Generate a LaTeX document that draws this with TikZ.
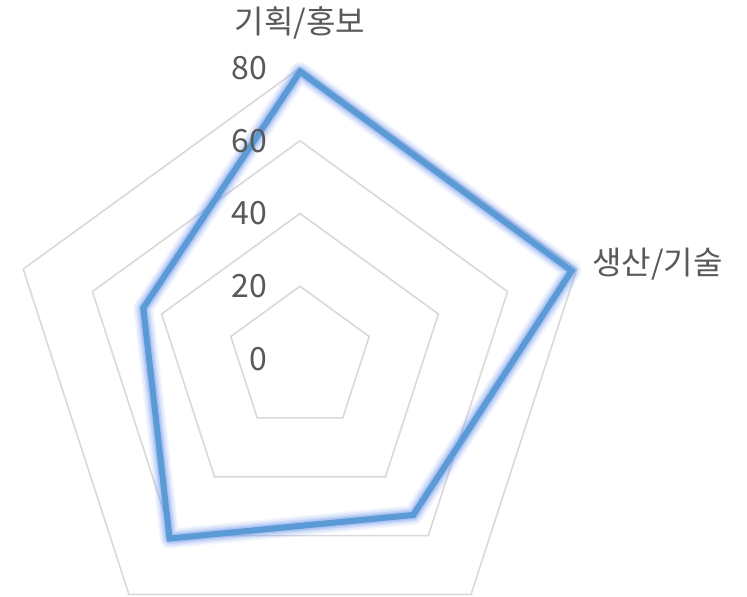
\documentclass[tikz,border=0pt]{standalone}
\usepackage{fontspec}
\setmainfont{Noto Sans CJK KR}
\begin{document}
\begin{tikzpicture}[x=1pt,y=1pt,
  ring/.style={draw={rgb,255:red,217;green,217;blue,217},line width=1.6pt,line join=miter},
  lbl/.style={text={rgb,255:red,89;green,89;blue,89},font=\fontsize{32}{38}\selectfont,inner sep=0pt},
  glow/.style={draw={rgb,255:red,110;green,150;blue,240},line join=round},
  dataline/.style={draw={rgb,255:red,91;green,155;blue,213},line width=6pt,line join=miter}]
\useasboundingbox (-300,-238) rectangle (447,359);
\fill[white] (-300,-238) rectangle (447,359);
\def\u{3.6375}
% rings
\foreach \v in {20,40,60,80}{
  \draw[ring] (90:\v*\u) -- (18:\v*\u) -- (-54:\v*\u) -- (-126:\v*\u) -- (162:\v*\u) -- cycle;
}
% data
\coordinate (d1) at (90:79*\u);
\coordinate (d2) at (18:78.5*\u);
\coordinate (d3) at (-54:53*\u);
\coordinate (d4) at (-126:61*\u);
\coordinate (d5) at (162:45.3*\u);
\foreach \w/\o in {20/0.08,17/0.1,14/0.14,11/0.2,8.5/0.25}{
  \draw[glow,line width=\w pt,opacity=\o] (d1) -- (d2) -- (d3) -- (d4) -- (d5) -- cycle;
}
\draw[dataline] (d1) -- (d2) -- (d3) -- (d4) -- (d5) -- cycle;
% axis labels
\node[lbl,anchor=east] (t0) at (-33,0) {0};
\node[lbl,anchor=east] (t20) at (-33,72.75) {20};
\node[lbl,anchor=east] (t40) at (-33,145.5) {40};
\node[lbl,anchor=east] (t60) at (-33,218.25) {60};
\node[lbl,anchor=east] (t80) at (-33,291) {80};
\node[lbl] (c1) at (0,336) {기획/홍보};
\node[lbl,anchor=west] (c2) at (292,95) {생산/기술};
\end{tikzpicture}
\end{document}
